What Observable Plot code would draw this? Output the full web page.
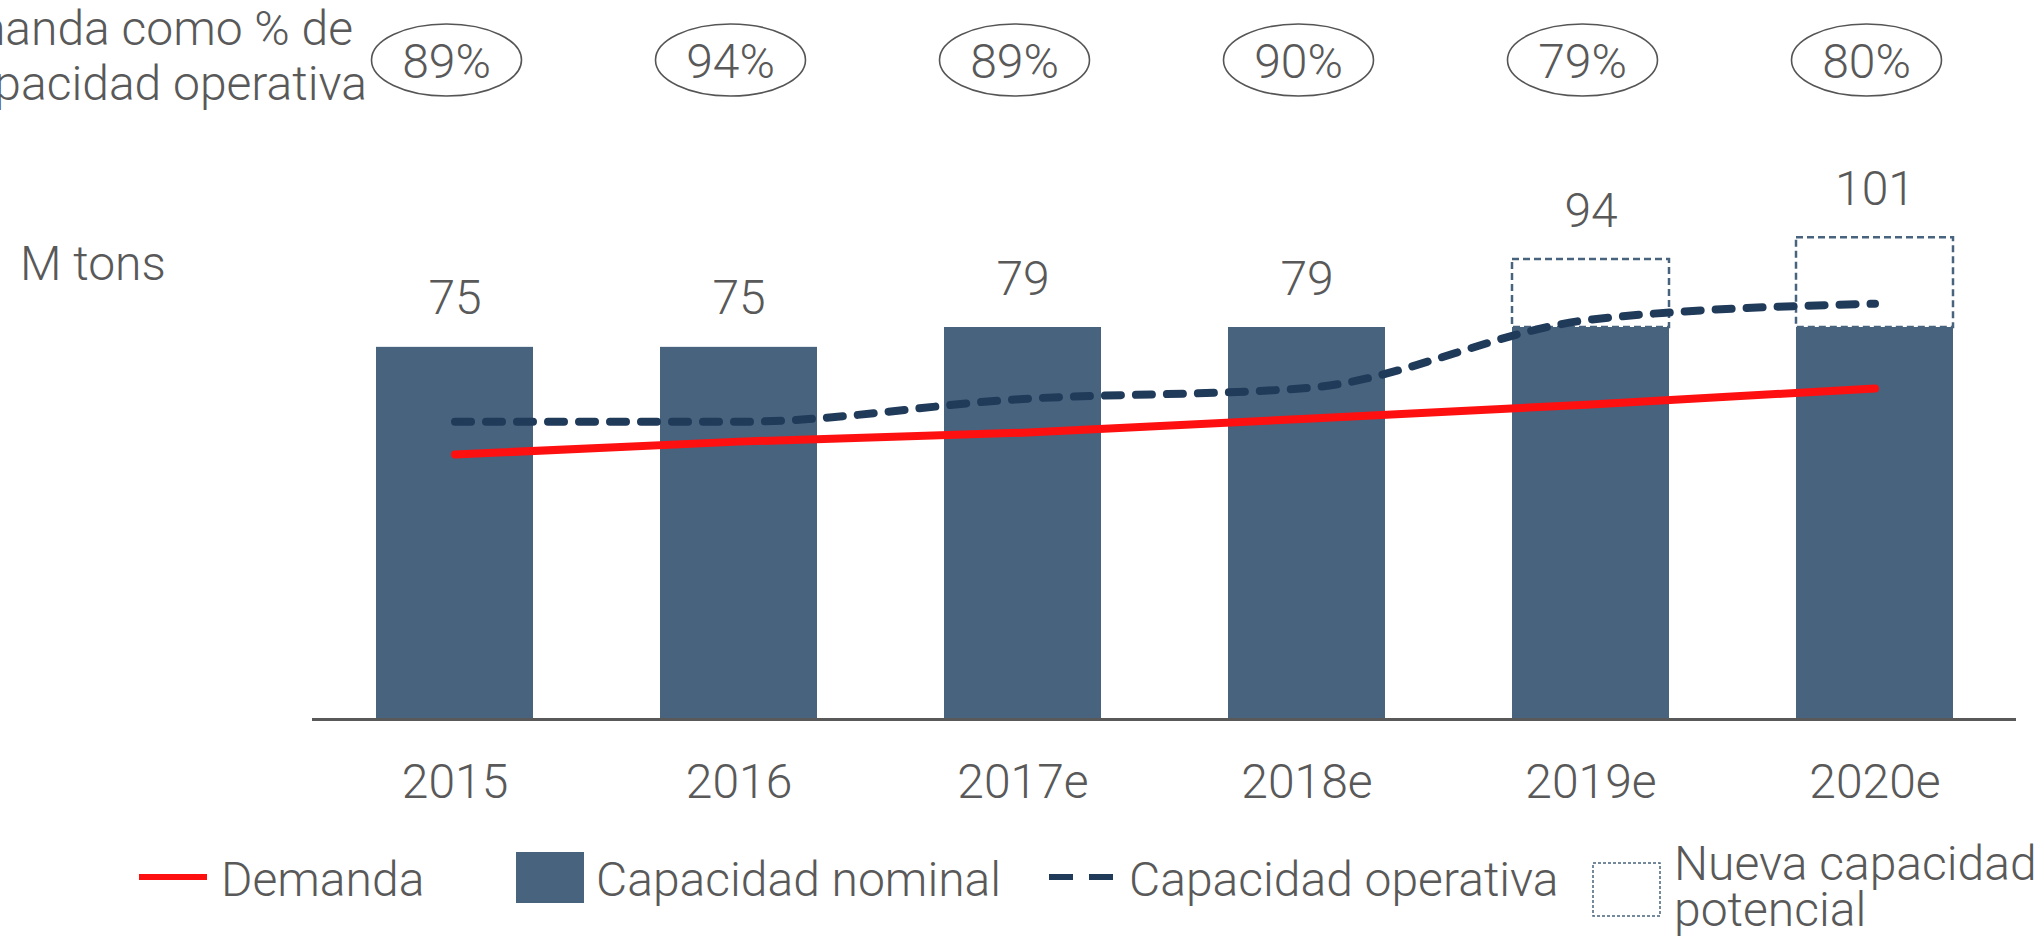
<!DOCTYPE html>
<html>
<head>
<meta charset="utf-8">
<script src="https://cdn.jsdelivr.net/npm/d3@7"></script>
<script src="https://cdn.jsdelivr.net/npm/@observablehq/plot@0.6"></script>
<style>
  html, body { margin: 0; padding: 0; background: #fff; overflow: hidden; }
  svg { display: block; }
</style>
</head>
<body>
<div id="chart"></div>
<script>
// ---- data ----
const years = ["2015", "2016", "2017e", "2018e", "2019e", "2020e"];
const capacidadNominal = [75, 75, 79, 79, 79, 79];
const nuevaCapacidadTop = [null, null, null, null, 92.7, 97.1];
const totalLabels = [75, 75, 79, 79, 94, 101];
const demanda = [53.4, 56.0, 57.8, 60.6, 63.5, 66.7];
const capacidadOperativa = [60.0, 60.0, 64.6, 66.8, 80.6, 83.8];
const pctDemanda = [89, 94, 89, 90, 79, 80];

const rows = years.map((year, i) => ({
  year,
  nominal: capacidadNominal[i],
  nueva: nuevaCapacidadTop[i],
  top: nuevaCapacidadTop[i] ?? capacidadNominal[i],
  label: totalLabels[i],
  demanda: demanda[i],
  operativa: capacidadOperativa[i],
  pct: pctDemanda[i]
}));

const GRAY = "#595959";
const BAR = "#48637e";
const NAVY = "#203a5a";
const RED = "#ff1010";
const FS = 48;

const chart = Plot.plot({
  width: 2044,
  height: 943,
  marginLeft: 312,
  marginRight: 28,
  marginTop: 0,
  marginBottom: 0,
  style: "font-family: Roboto, 'Noto Sans', sans-serif; font-weight: 300; color: #595959; background: white;",
  x: { domain: years, range: [312, 2016], paddingInner: 0.448, paddingOuter: 0.224, axis: null },
  y: { domain: [0, 100], range: [719, 719 - 496.2], axis: null },
  marks: [
    Plot.rectY(rows.filter(d => d.nueva != null), {
      x: "year", y1: "nominal", y2: "nueva",
      fill: "none", stroke: BAR, strokeWidth: 2.5, strokeDasharray: "7,4"
    }),
    Plot.barY(rows, { x: "year", y: "nominal", fill: BAR }),
    Plot.ruleY([0], { stroke: GRAY, strokeWidth: 3 }),
    Plot.line(rows, {
      x: "year", y: "operativa", curve: "monotone-x",
      stroke: NAVY, strokeWidth: 8, strokeDasharray: "16,15", strokeLinecap: "round"
    }),
    Plot.line(rows, {
      x: "year", y: "demanda",
      stroke: RED, strokeWidth: 8, strokeLinecap: "round"
    }),
    Plot.text(rows, {
      x: "year", y: "top", text: d => String(d.label),
      dy: -33, lineAnchor: "bottom", fontSize: FS, fill: GRAY, fontWeight: 300
    }),
    Plot.text(rows, {
      x: "year", y: () => 0, text: "year",
      dy: 78, lineAnchor: "bottom", fontSize: FS, fill: GRAY, fontWeight: 300
    })
  ]
});

document.getElementById("chart").appendChild(chart);

// ---- annotations drawn with the library's x scale ----
const svg = d3.select(chart);
const xs = chart.scale("x");
const cx = y => xs.apply(y) + xs.bandwidth / 2 - 8;

const g = svg.append("g").attr("font-family", "Roboto, 'Noto Sans', sans-serif")
  .attr("font-weight", 300).attr("fill", GRAY).attr("font-size", FS)
  .attr("text-anchor", "start");

// percentage ellipses
const pg = g.selectAll("g.pct").data(rows).join("g").attr("class", "pct");
pg.append("ellipse")
  .attr("cx", d => cx(d.year)).attr("cy", 60)
  .attr("rx", 75).attr("ry", 36)
  .attr("fill", "none").attr("stroke", "#555").attr("stroke-width", 1.6);
pg.append("text")
  .attr("x", d => cx(d.year)).attr("y", 78)
  .attr("text-anchor", "middle")
  .text(d => d.pct + "%");

// top-left caption (cut off at left edge as in reference)
g.append("text").attr("x", 353).attr("y", 45).attr("text-anchor", "end").text("Demanda como % de");
g.append("text").attr("x", 367).attr("y", 100).attr("text-anchor", "end").text("capacidad operativa");

// unit label
g.append("text").attr("x", 20).attr("y", 280).text("M tons");

// legend
const lg = g.append("g").attr("text-anchor", "start");
lg.append("line").attr("x1", 139).attr("x2", 207).attr("y1", 877).attr("y2", 877)
  .attr("stroke", RED).attr("stroke-width", 6);
lg.append("text").attr("x", 221).attr("y", 896).text("Demanda");
lg.append("rect").attr("x", 516).attr("y", 852).attr("width", 68).attr("height", 51).attr("fill", BAR);
lg.append("text").attr("x", 596).attr("y", 896).text("Capacidad nominal");
lg.append("line").attr("x1", 1049).attr("x2", 1113).attr("y1", 877).attr("y2", 877)
  .attr("stroke", NAVY).attr("stroke-width", 6).attr("stroke-dasharray", "24,16");
lg.append("text").attr("x", 1129).attr("y", 896).text("Capacidad operativa");
lg.append("rect").attr("x", 1593).attr("y", 863).attr("width", 67).attr("height", 53)
  .attr("fill", "none").attr("stroke", BAR).attr("stroke-width", 1.5).attr("stroke-dasharray", "3,2");
lg.append("text").attr("x", 1674).attr("y", 880).text("Nueva capacidad");
lg.append("text").attr("x", 1674).attr("y", 926).text("potencial");
</script>
</body>
</html>
